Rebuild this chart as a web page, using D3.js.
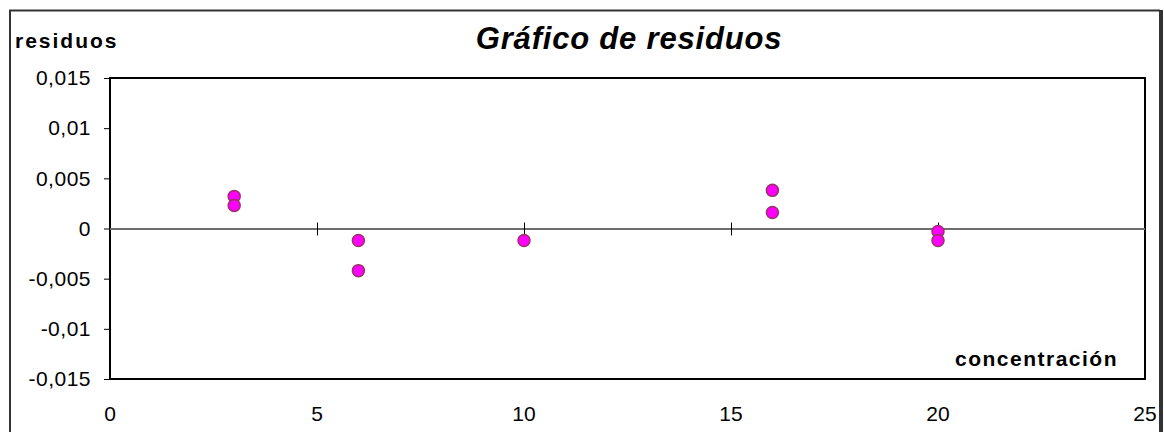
<!DOCTYPE html>
<html>
<head>
<meta charset="utf-8">
<script src="https://cdn.jsdelivr.net/npm/d3@7"></script>
<style>
  html, body { margin: 0; padding: 0; background: #fff; }
  svg { display: block; font-family: Arial, "Liberation Sans", sans-serif; }
</style>
</head>
<body>
<svg id="chart" width="1164" height="432"></svg>
<script>
// Residuals of the calibration fit, by concentration
const concentracion = [3, 3, 6, 6, 10, 16, 16, 20, 20];
const residuos = [0.0032, 0.0023, -0.0012, -0.0042, -0.0012, 0.0038, 0.0016, -0.0003, -0.0012];

const xTicks = [0, 5, 10, 15, 20, 25];
const yTicks = [-0.015, -0.01, -0.005, 0, 0.005, 0.01, 0.015];
const yTickLabels = ["-0,015", "-0,01", "-0,005", "0", "0,005", "0,01", "0,015"];

const svg = d3.select("#chart");
const plot = { left: 110, top: 78, right: 1145, bottom: 379 };

const x = d3.scaleLinear().domain([0, 25]).range([plot.left, plot.right]);
const y = d3.scaleLinear().domain([-0.015, 0.015]).range([plot.bottom, plot.top]);

// Outer chart frame with a heavier right edge
svg.append("path")
  .attr("d", `M10,434 V10.5 H1160`)
  .attr("fill", "none").attr("stroke", "#333").attr("stroke-width", 2);
svg.append("line")
  .attr("x1", 1161).attr("x2", 1161).attr("y1", 10).attr("y2", 432)
  .attr("stroke", "#333").attr("stroke-width", 4);

// Plot area border
svg.append("rect")
  .attr("x", plot.left).attr("y", plot.top)
  .attr("width", plot.right - plot.left).attr("height", plot.bottom - plot.top)
  .attr("fill", "none").attr("stroke", "#000").attr("stroke-width", 2);

// Y axis ticks and labels
const yAxis = d3.axisLeft(y).tickValues(yTicks).tickSize(6).tickPadding(13)
  .tickFormat((d, i) => yTickLabels[i]);
const gy = svg.append("g").attr("transform", `translate(${plot.left},0)`).call(yAxis);
gy.select(".domain").remove();
gy.selectAll(".tick line").attr("stroke", "#000").attr("stroke-width", 1);
gy.selectAll(".tick text").attr("font-size", 21).attr("fill", "#000")
  .attr("letter-spacing", 0.5)
  .attr("font-family", 'Arial, "Liberation Sans", sans-serif');

// X axis drawn along the zero line, ticks crossing it
const xAxis = d3.axisBottom(x).tickValues(xTicks.filter(d => d > 0 && d < 25))
  .tickSizeInner(12).tickSizeOuter(0).tickFormat("");
const gx = svg.append("g").attr("transform", `translate(0,${y(0)})`).call(xAxis);
gx.select(".domain").attr("stroke", "#6e6e6e").attr("stroke-width", 2)
  .attr("d", `M${plot.left},0.5H${plot.right}`);
gx.selectAll(".tick line").attr("y1", -6).attr("y2", 7).attr("stroke", "#000").attr("stroke-width", 1);

// X tick labels below the plot area
svg.append("g").selectAll("text").data(xTicks).join("text")
  .attr("x", d => x(d)).attr("y", 421)
  .attr("text-anchor", "middle").attr("font-size", 21).attr("fill", "#000")
  .text(d => d);

// Residual points
svg.append("g").selectAll("circle").data(concentracion).join("circle")
  .attr("cx", d => x(d))
  .attr("cy", (d, i) => y(residuos[i]))
  .attr("r", 6)
  .attr("fill", "#ff00ff")
  .attr("stroke", "#993366")
  .attr("stroke-width", 1.5);

// Titles
svg.append("text")
  .attr("x", 629).attr("y", 49).attr("text-anchor", "middle")
  .attr("font-size", 31).attr("font-weight", "bold").attr("font-style", "italic")
  .attr("letter-spacing", 0.8)
  .text("Gráfico de residuos");

svg.append("text")
  .attr("x", 15).attr("y", 48)
  .attr("font-size", 21).attr("font-weight", "bold").attr("letter-spacing", 2)
  .text("residuos");

svg.append("text")
  .attr("x", 1118).attr("y", 366).attr("text-anchor", "end")
  .attr("font-size", 21).attr("font-weight", "bold").attr("letter-spacing", 1.5)
  .text("concentración");
</script>
</body>
</html>
